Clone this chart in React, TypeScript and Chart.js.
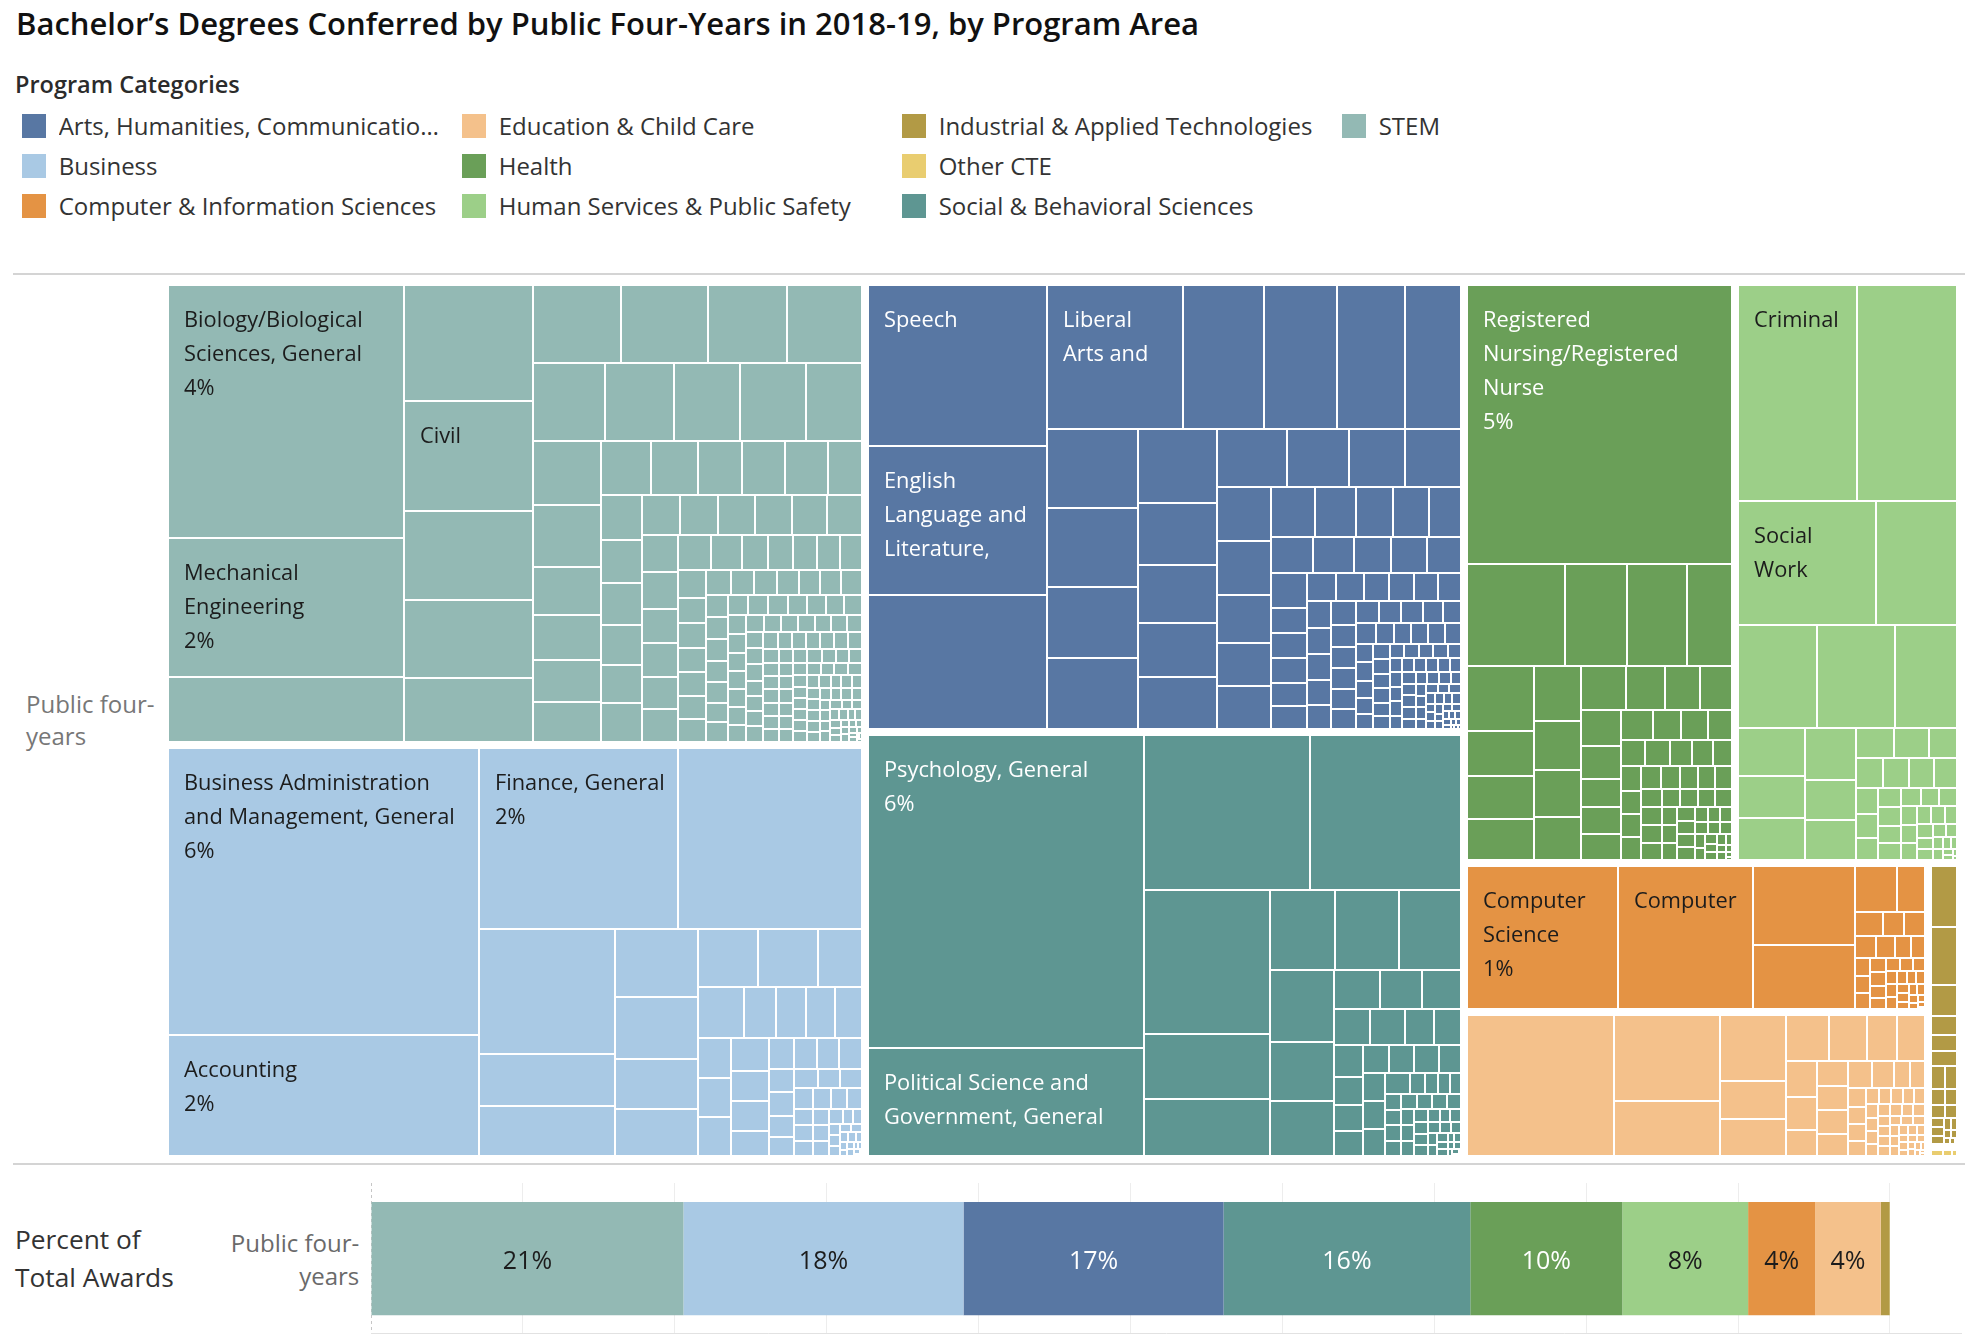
import React, { useEffect, useRef } from "react";
import { Chart, registerables } from "chart.js";

Chart.register(...registerables);

const FONT = "'Open Sans', 'Noto Sans', 'DejaVu Sans', sans-serif";

const chartTitle = "Bachelor’s Degrees Conferred by Public Four-Years in 2018-19, by Program Area";
const legendTitle = "Program Categories";
const rowLabel = "Public four-years";
const barAxisLabel = ["Percent of", "Total Awards"];

const categories = [
  "STEM",
  "Business",
  "Arts, Humanities, Communication & Design",
  "Social & Behavioral Sciences",
  "Health",
  "Human Services & Public Safety",
  "Computer & Information Sciences",
  "Education & Child Care",
  "Industrial & Applied Technologies",
  "Other CTE",
];
const categoryColors = [
  "#93b9b4", "#a9c9e4", "#5877a3", "#5e9692", "#6a9f58",
  "#9ccf88", "#e49344", "#f4c18b", "#b29a45", "#e9cd70",
];
const labelInks = [
  "#1c1c1c", "#1c1c1c", "#ffffff", "#ffffff", "#ffffff",
  "#1c1c1c", "#1c1c1c", "#1c1c1c", "#1c1c1c", "#1c1c1c",
];

// Share of all bachelor's awards (%), one value per program, per category.
const stemAwards = [
  3.86, 2.12, 0.98, 0.97, 0.92, 0.74, 0.65, 0.53,
  0.445, 0.44, 0.40, 0.38, 0.365,
  0.35, 0.333, 0.33, 0.285, 0.283, 0.274,
  0.212, 0.202, 0.188, 0.173, 0.172, 0.162, 0.153,
  0.150, 0.148, 0.118, 0.118, 0.114, 0.110, 0.103, 0.101,
  0.100, 0.099, 0.098, 0.097, 0.095, 0.093, 0.090,
  0.089, 0.086, 0.081, 0.078, 0.077, 0.076, 0.075, 0.072,
  0.060, 0.057, 0.055, 0.053, 0.051, 0.050, 0.047, 0.045,
  0.044, 0.043, 0.042, 0.041, 0.039, 0.038, 0.036, 0.035, 0.034,
  0.034, 0.033, 0.032, 0.031, 0.031, 0.030, 0.029, 0.028, 0.027,
  0.026, 0.026, 0.025, 0.025, 0.024, 0.024, 0.023, 0.023, 0.022,
  0.022, 0.022, 0.021, 0.021, 0.020, 0.020, 0.019, 0.019,
  0.019, 0.018, 0.018, 0.017, 0.017, 0.016, 0.016, 0.015, 0.015, 0.014,
  0.017, 0.017, 0.016, 0.016, 0.015,
  0.016, 0.016, 0.015, 0.015, 0.015, 0.014, 0.014, 0.014, 0.014,
  0.013, 0.013, 0.013, 0.013, 0.013, 0.012, 0.012, 0.012, 0.012, 0.012, 0.012, 0.012,
  0.011, 0.011, 0.011, 0.011, 0.011, 0.011, 0.011, 0.010, 0.010, 0.010, 0.010, 0.010, 0.010, 0.010,
  0.009, 0.009, 0.009, 0.009, 0.009, 0.009, 0.009, 0.008, 0.008, 0.008, 0.008, 0.008,
  0.007, 0.007, 0.007, 0.007, 0.007, 0.006, 0.006, 0.006, 0.006,
  0.005, 0.005, 0.005, 0.005, 0.004, 0.004, 0.004, 0.004,
  0.003, 0.003, 0.003, 0.002, 0.002, 0.002, 0.001, 0.001, 0.001,
];
const stemPrograms = [
  "Biology/Biological Sciences, General",
  "Mechanical Engineering",
  "",
  "",
  "Civil Engineering, General",
];

const businessAwards = [
  5.80, 2.44, 2.34, 2.16, 1.10,
  0.45, 0.44, 0.37, 0.338, 0.268, 0.256, 0.226,
  0.224, 0.167, 0.152, 0.107, 0.100, 0.097, 0.091, 0.084, 0.083, 0.083, 0.078, 0.073, 0.073, 0.061,
  0.050, 0.046, 0.045, 0.045, 0.039, 0.039, 0.036, 0.032, 0.028,
  0.027, 0.026, 0.025, 0.024, 0.022, 0.021, 0.020, 0.019, 0.018, 0.017, 0.016, 0.015, 0.014,
  0.010, 0.009, 0.008, 0.008, 0.007, 0.006, 0.006,
  0.005, 0.005, 0.004, 0.004, 0.003, 0.003, 0.003, 0.002, 0.002, 0.002, 0.001, 0.001,
];
const businessPrograms = [
  "Business Administration and Management, General",
  "Accounting",
  "Finance, General",
];

const artsAwards = [
  1.87, 1.72, 1.56, 1.27, 0.75, 0.68, 0.64, 0.52,
  0.468, 0.462, 0.42, 0.417, 0.383, 0.318, 0.30, 0.28, 0.267, 0.265, 0.232,
  0.212, 0.212, 0.187, 0.187, 0.166, 0.149, 0.148, 0.142, 0.132, 0.119, 0.115,
  0.102, 0.100, 0.099, 0.088, 0.085, 0.081, 0.081, 0.060, 0.060, 0.059, 0.055, 0.054, 0.052,
  0.051, 0.045, 0.045, 0.045, 0.041, 0.041, 0.041, 0.040, 0.039, 0.038, 0.038, 0.036, 0.035, 0.034,
  0.033, 0.032, 0.032, 0.031, 0.031, 0.028, 0.026, 0.026, 0.024, 0.024, 0.023, 0.023, 0.021,
  0.020, 0.020, 0.019, 0.017, 0.017, 0.016, 0.016, 0.015, 0.015, 0.014, 0.014, 0.013, 0.013,
  0.013, 0.013, 0.012, 0.012, 0.012, 0.012, 0.012, 0.011, 0.011, 0.011, 0.011, 0.011,
  0.010, 0.010, 0.010, 0.010, 0.010, 0.009, 0.009, 0.009, 0.009, 0.008, 0.008, 0.008, 0.008,
  0.007, 0.007, 0.007, 0.007, 0.006, 0.006, 0.006, 0.006, 0.005, 0.005, 0.005, 0.005,
  0.004, 0.004, 0.004, 0.004, 0.003, 0.003, 0.003, 0.003, 0.002, 0.002, 0.002, 0.001, 0.001, 0.001,
];
const artsPrograms = [
  "Speech Communication and Rhetoric",
  "English Language and Literature, General",
  "",
  "Liberal Arts and Sciences/Liberal Studies",
];

const socialAwards = [
  5.60, 1.93, 1.67, 1.51, 1.18, 0.524, 0.469, 0.339, 0.334, 0.325, 0.299, 0.247, 0.23,
  0.115, 0.107, 0.099, 0.083, 0.079, 0.068, 0.062, 0.061, 0.053, 0.049, 0.048, 0.046, 0.046,
  0.045, 0.041, 0.040, 0.040, 0.038, 0.035, 0.021, 0.018, 0.017, 0.016, 0.016, 0.016,
  0.016, 0.016, 0.015, 0.015, 0.014, 0.014, 0.013, 0.013, 0.012, 0.012, 0.011, 0.011,
  0.010, 0.010, 0.009, 0.009, 0.008, 0.008, 0.007, 0.007, 0.006, 0.006, 0.005, 0.005,
  0.004, 0.004, 0.003, 0.003, 0.002, 0.002, 0.001, 0.001,
];
const socialPrograms = [
  "Psychology, General",
  "Political Science and Government, General",
];

const healthAwards = [
  4.85, 0.65, 0.41, 0.40, 0.30, 0.289, 0.197, 0.191, 0.177, 0.168,
  0.151, 0.145, 0.130, 0.129, 0.113, 0.101, 0.095, 0.093, 0.085, 0.072,
  0.068, 0.067, 0.064, 0.054, 0.048, 0.053, 0.035, 0.033, 0.031, 0.030, 0.024,
  0.042, 0.042, 0.038, 0.034,
  0.030, 0.029, 0.028, 0.027, 0.026, 0.025, 0.025, 0.024, 0.023, 0.022, 0.021, 0.020, 0.020, 0.019,
  0.018, 0.017, 0.016, 0.015, 0.015, 0.014, 0.013, 0.012, 0.012, 0.011, 0.010, 0.010, 0.009,
  0.008, 0.008, 0.007, 0.006, 0.006, 0.005, 0.004, 0.004, 0.003, 0.002, 0.001,
];
const healthPrograms = ["Registered Nursing/Registered Nurse"];

const humanServicesAwards = [
  1.68, 1.42, 1.12, 0.66, 0.53, 0.53, 0.42, 0.21, 0.185, 0.18, 0.178, 0.135, 0.132,
  0.076, 0.069, 0.056, 0.053, 0.052, 0.048, 0.046, 0.037,
  0.033, 0.031, 0.030, 0.028, 0.027, 0.025, 0.024, 0.022, 0.021, 0.020,
  0.019, 0.018, 0.017, 0.016, 0.015, 0.014, 0.012, 0.011, 0.010, 0.009,
  0.008, 0.007, 0.006, 0.005, 0.004, 0.003, 0.002, 0.001,
];
const humanServicesPrograms = ["Criminal Justice/Safety Studies", "", "Social Work"];

const computingAwards = [
  1.45, 1.30, 0.54, 0.44, 0.13, 0.085, 0.046, 0.034, 0.034, 0.030, 0.028, 0.024,
  0.019, 0.018, 0.017, 0.016, 0.015, 0.014, 0.013, 0.012, 0.012, 0.011, 0.010, 0.010, 0.010,
  0.009, 0.009, 0.008, 0.008, 0.007, 0.007, 0.006, 0.006, 0.005, 0.005, 0.004, 0.003, 0.002, 0.001,
];
const computingPrograms = ["Computer Science", "Computer Engineering, General"];

const educationAwards = [
  1.38, 0.61, 0.39, 0.29, 0.166, 0.162, 0.132, 0.116, 0.092, 0.085, 0.075, 0.068, 0.054, 0.052,
  0.050, 0.050, 0.046, 0.044, 0.039, 0.030, 0.026, 0.022, 0.020, 0.019, 0.018, 0.014, 0.013,
  0.012, 0.012, 0.011, 0.011, 0.011, 0.010, 0.010, 0.010, 0.009, 0.009, 0.009, 0.008, 0.008,
  0.008, 0.008, 0.007, 0.007, 0.007, 0.007, 0.006, 0.006, 0.006, 0.006, 0.005, 0.005, 0.005,
  0.004, 0.004, 0.004, 0.003, 0.003, 0.003, 0.002, 0.002, 0.001, 0.001,
];
const educationPrograms: string[] = [];

const industrialAwards = [
  0.13, 0.12, 0.065, 0.040, 0.035, 0.030, 0.026, 0.022, 0.019, 0.016, 0.014,
  0.012, 0.010, 0.009, 0.008, 0.007, 0.006, 0.005, 0.004, 0.003, 0.002, 0.001,
];
const industrialPrograms: string[] = [];

const otherCteAwards = [0.012, 0.008, 0.005];
const otherCtePrograms: string[] = [];

const programAwards = [
  stemAwards, businessAwards, artsAwards, socialAwards, healthAwards,
  humanServicesAwards, computingAwards, educationAwards, industrialAwards, otherCteAwards,
];
const programNames = [
  stemPrograms, businessPrograms, artsPrograms, socialPrograms, healthPrograms,
  humanServicesPrograms, computingPrograms, educationPrograms, industrialPrograms, otherCtePrograms,
];

// ---------- derived tables ----------
const sumOf = (a: number[]) => a.reduce((s, v) => s + v, 0);

const groups = categories
  .map((name, i) => ({
    name,
    color: categoryColors[i],
    ink: labelInks[i],
    total: sumOf(programAwards[i]),
    programs: programAwards[i]
      .map((v, k) => ({ value: v, name: programNames[i][k] || "" }))
      .sort((a, b) => b.value - a.value),
  }))
  .sort((a, b) => b.total - a.total);

const grandTotal = sumOf(groups.map((g) => g.total));
const pctText = (v: number) => `${Math.round((v / grandTotal) * 100)}%`;

// ---------- treemap layout ----------
type Box = { x: number; y: number; w: number; h: number };

// Strips are laid along the shorter side; a strip keeps growing while the
// first (largest) item in it gets squarer.
function squarify(values: number[], box: Box, minStrip: (left: number) => number): Box[] {
  const out: Box[] = [];
  let { x, y, w, h } = box;
  let rest = sumOf(values);
  let i = 0;
  while (i < values.length) {
    const scale = rest > 0 ? (w * h) / rest : 0;
    const vertical = w >= h;
    const side = vertical ? h : w;
    const firstAspect = (s: number) => {
      const thick = (s * scale) / side;
      const len = thick > 0 ? (values[i] * scale) / thick : 0;
      return thick > 0 && len > 0 ? Math.max(thick / len, len / thick) : Infinity;
    };
    let n = 1;
    let s = values[i];
    let best = firstAspect(s);
    const need = minStrip(values.length - i);
    while (i + n < values.length) {
      const next = s + values[i + n];
      const a = firstAspect(next);
      if (n < need || a <= best) {
        s = next;
        best = a;
        n++;
      } else break;
    }
    const thick = side > 0 ? (s * scale) / side : 0;
    let off = 0;
    for (let k = 0; k < n; k++) {
      const len = thick > 0 ? (values[i + k] * scale) / thick : 0;
      out.push(vertical ? { x, y: y + off, w: thick, h: len } : { x: x + off, y, w: len, h: thick });
      off += len;
    }
    if (vertical) {
      x += thick;
      w -= thick;
    } else {
      y += thick;
      h -= thick;
    }
    rest -= s;
    i += n;
  }
  return out;
}

const GROUP_GAP = 3;
const CELL_GAP = 1;
const LABEL_FONT_PX = 21.8;
const LABEL_PAD_LEFT = 15;
const LABEL_PAD_RIGHT = 12;
const FIRST_BASELINE = 41;
const LINE_STEP = 34;
const BOTTOM_CLEAR = 18;

function labelLines(ctx: CanvasRenderingContext2D, name: string, pct: string, maxW: number): string[] {
  const words = name.split(" ");
  const lines: string[] = [];
  let cur = "";
  for (const word of words) {
    const trial = cur ? `${cur} ${word}` : word;
    if (ctx.measureText(trial).width <= maxW) {
      cur = trial;
      continue;
    }
    if (!cur) return lines;
    lines.push(cur);
    cur = word;
    if (ctx.measureText(cur).width > maxW) return lines;
  }
  if (cur) lines.push(cur);
  lines.push(pct);
  return lines;
}

const treemapPlugin = {
  id: "programTreemap",
  afterDatasetsDraw(chart: any) {
    const { ctx, chartArea, scales } = chart;
    const xs = scales.x;
    const ys = scales.y;
    const W = chartArea.right - chartArea.left;
    const H = chartArea.bottom - chartArea.top;
    const toPx = (b: Box) => ({
      l: xs.getPixelForValue(b.x / W),
      r: xs.getPixelForValue((b.x + b.w) / W),
      t: ys.getPixelForValue(b.y / H),
      b: ys.getPixelForValue((b.y + b.h) / H),
    });
    const groupBoxes = squarify(
      groups.map((g) => g.total),
      { x: 0, y: 0, w: W, h: H },
      (left) => (left > 2 ? 2 : 1)
    );
    ctx.save();
    groupBoxes.forEach((gb, gi) => {
      const g = groups[gi];
      const inner = { x: gb.x + GROUP_GAP, y: gb.y + GROUP_GAP, w: gb.w - 2 * GROUP_GAP, h: gb.h - 2 * GROUP_GAP };
      if (inner.w <= 0 || inner.h <= 0) return;
      const cells = squarify(g.programs.map((p) => p.value), inner, () => 1);
      ctx.fillStyle = g.color;
      const drawn = cells.map((c) => {
        const p = toPx(c);
        const l = Math.round(p.l + CELL_GAP);
        const r = Math.round(p.r - CELL_GAP);
        const t = Math.round(p.t + CELL_GAP);
        const b = Math.round(p.b - CELL_GAP);
        if (r > l && b > t) ctx.fillRect(l, t, r - l, b - t);
        return { l, r, t, b };
      });
      ctx.font = `${LABEL_FONT_PX}px ${FONT}`;
      ctx.fillStyle = g.ink;
      ctx.textAlign = "left";
      ctx.textBaseline = "alphabetic";
      g.programs.forEach((prog, k) => {
        if (!prog.name) return;
        const cell = drawn[k];
        const cw = cell.r - cell.l;
        const ch = cell.b - cell.t;
        const lines = labelLines(ctx, prog.name, pctText(prog.value), cw - LABEL_PAD_LEFT - LABEL_PAD_RIGHT);
        for (let li = 0; li < lines.length; li++) {
          const base = FIRST_BASELINE + LINE_STEP * li;
          if (base + BOTTOM_CLEAR > ch) break;
          ctx.fillText(lines[li], cell.l + LABEL_PAD_LEFT, cell.t + base);
        }
      });
    });
    ctx.restore();
  },
};

function ProgramTreemap() {
  const ref = useRef<HTMLCanvasElement>(null);
  useEffect(() => {
    const chart = new Chart(ref.current as HTMLCanvasElement, {
      type: "scatter",
      data: { datasets: [] },
      options: {
        responsive: false,
        animation: false,
        events: [],
        layout: { padding: 0 },
        scales: {
          x: { type: "linear", min: 0, max: 1, display: false },
          y: { type: "linear", min: 0, max: 1, reverse: true, display: false },
        },
        plugins: { legend: { display: false }, tooltip: { enabled: false } },
      },
      plugins: [treemapPlugin],
    } as any);
    return () => chart.destroy();
  }, []);
  return (
    <canvas
      ref={ref}
      width={1795}
      height={877}
      style={{ position: "absolute", left: 165, top: 282, width: 1795, height: 877 }}
    />
  );
}

// ---------- share bar ----------
const segmentLabelPlugin = {
  id: "segmentLabels",
  afterDatasetsDraw(chart: any) {
    const { ctx } = chart;
    ctx.save();
    ctx.font = `25px ${FONT}`;
    ctx.textAlign = "center";
    ctx.textBaseline = "alphabetic";
    chart.data.datasets.forEach((ds: any, i: number) => {
      const el = chart.getDatasetMeta(i).data[0];
      if (!el) return;
      const width = Math.abs(el.x - el.base);
      const text = `${Math.round(ds.data[0] * 100)}%`;
      if (width < ctx.measureText(text).width + 6) return;
      ctx.fillStyle = groups[i].ink;
      ctx.fillText(text, (el.x + el.base) / 2, el.y + 10);
    });
    ctx.restore();
  },
};

const frameLinePlugin = {
  id: "frameLines",
  beforeDatasetsDraw(chart: any) {
    const { ctx, chartArea: a, scales } = chart;
    const x0 = Math.round(scales.x.getPixelForValue(0)) + 0.5;
    ctx.save();
    ctx.lineWidth = 1;
    ctx.strokeStyle = "#c6c6c6";
    ctx.setLineDash([3, 3]);
    ctx.beginPath();
    ctx.moveTo(x0, a.top);
    ctx.lineTo(x0, a.bottom);
    ctx.stroke();
    ctx.setLineDash([]);
    ctx.strokeStyle = "#e2e2e2";
    ctx.beginPath();
    ctx.moveTo(a.left, a.bottom - 0.5);
    ctx.lineTo(a.right, a.bottom - 0.5);
    ctx.stroke();
    ctx.restore();
  },
};

function ShareBar() {
  const ref = useRef<HTMLCanvasElement>(null);
  useEffect(() => {
    const chart = new Chart(ref.current as HTMLCanvasElement, {
      type: "bar",
      data: {
        labels: [rowLabel],
        datasets: groups.map((g) => ({
          label: g.name,
          data: [g.total / grandTotal],
          backgroundColor: g.color,
          borderWidth: 0,
          barPercentage: 1,
          categoryPercentage: 0.75,
        })),
      },
      options: {
        indexAxis: "y",
        responsive: false,
        animation: false,
        events: [],
        layout: { padding: 0 },
        scales: {
          x: {
            stacked: true,
            min: 0,
            max: 1.0474,
            ticks: { display: false, stepSize: 0.1 },
            grid: {
              drawTicks: false,
              lineWidth: 1,
              color: (c: any) => (c.tick && Math.abs(c.tick.value) < 1e-9 ? "rgba(0,0,0,0)" : "#ededed"),
            },
            border: { display: false },
            afterBuildTicks: (s: any) => {
              s.ticks = s.ticks.filter((t: any) => t.value <= 1.0001);
            },
          },
          y: { stacked: true, display: false },
        },
        plugins: { legend: { display: false }, tooltip: { enabled: false } },
      },
      plugins: [frameLinePlugin, segmentLabelPlugin],
    } as any);
    return () => chart.destroy();
  }, []);
  return (
    <canvas
      ref={ref}
      width={1591}
      height={151}
      style={{ position: "absolute", left: 371, top: 1183, width: 1591, height: 151 }}
    />
  );
}

// ---------- page text ----------
type TextProps = {
  left?: number;
  right?: number;
  baseline: number;
  size: number;
  weight?: number;
  color: string;
  maxWidth?: number;
  children: React.ReactNode;
};

function PlacedText({ left, right, baseline, size, weight = 400, color, maxWidth, children }: TextProps) {
  const lh = Math.round(size * 1.4);
  const top = baseline - ((lh - 1.362 * size) / 2 + 1.069 * size);
  const style: React.CSSProperties = {
    position: "absolute",
    top,
    fontFamily: FONT,
    fontSize: size,
    fontWeight: weight,
    lineHeight: `${lh}px`,
    color,
    whiteSpace: "nowrap",
  };
  if (right !== undefined) {
    style.right = 1972 - right;
    style.textAlign = "right";
  } else {
    style.left = left;
  }
  if (maxWidth) {
    style.width = maxWidth;
    style.overflow = "hidden";
    style.textOverflow = "ellipsis";
  }
  return <div style={style}>{children}</div>;
}

const legendEntries = groups
  .map((g) => ({ name: g.name, color: g.color }))
  .sort((a, b) => a.name.localeCompare(b.name));

const rowLabelLines = rowLabel.replace("-", "-\n").split("\n");

export default function App() {
  return (
    <div
      style={{
        position: "absolute",
        left: 0,
        top: 0,
        width: 1972,
        height: 1338,
        background: "#ffffff",
        overflow: "hidden",
      }}
    >
      <PlacedText left={16} baseline={35.7} size={31} weight={600} color="#111111">
        {chartTitle}
      </PlacedText>
      <PlacedText left={15} baseline={94} size={23.5} weight={600} color="#2b2b2b">
        {legendTitle}
      </PlacedText>
      {legendEntries.map((e, i) => {
        const col = Math.floor(i / 3);
        const row = i % 3;
        const x = 22 + 440 * col;
        return (
          <React.Fragment key={e.name}>
            <div
              style={{
                position: "absolute",
                left: x,
                top: 114 + 40 * row,
                width: 24,
                height: 23.5,
                background: e.color,
              }}
            />
            <PlacedText
              left={x + 36.7}
              baseline={135 + 40 * row}
              size={24}
              color="#333333"
              maxWidth={col === 0 ? 386 : undefined}
            >
              {e.name}
            </PlacedText>
          </React.Fragment>
        );
      })}
      <div style={{ position: "absolute", left: 13, top: 273, width: 1952, height: 2, background: "#d4d4d4" }} />

      <PlacedText left={26} baseline={713.3} size={24} color="#777777">
        {rowLabelLines[0]}
      </PlacedText>
      <PlacedText left={26} baseline={745} size={24} color="#777777">
        {rowLabelLines[1]}
      </PlacedText>
      <ProgramTreemap />

      <div style={{ position: "absolute", left: 13, top: 1163, width: 1952, height: 2, background: "#d4d4d4" }} />

      <PlacedText left={15} baseline={1250} size={26.3} color="#333333">
        {barAxisLabel[0]}
      </PlacedText>
      <PlacedText left={15} baseline={1287.7} size={26.3} color="#333333">
        {barAxisLabel[1]}
      </PlacedText>
      <PlacedText right={359.3} baseline={1252.3} size={24} color="#6a6a6a">
        {rowLabelLines[0]}
      </PlacedText>
      <PlacedText right={359.3} baseline={1285.7} size={24} color="#6a6a6a">
        {rowLabelLines[1]}
      </PlacedText>
      <ShareBar />
    </div>
  );
}
